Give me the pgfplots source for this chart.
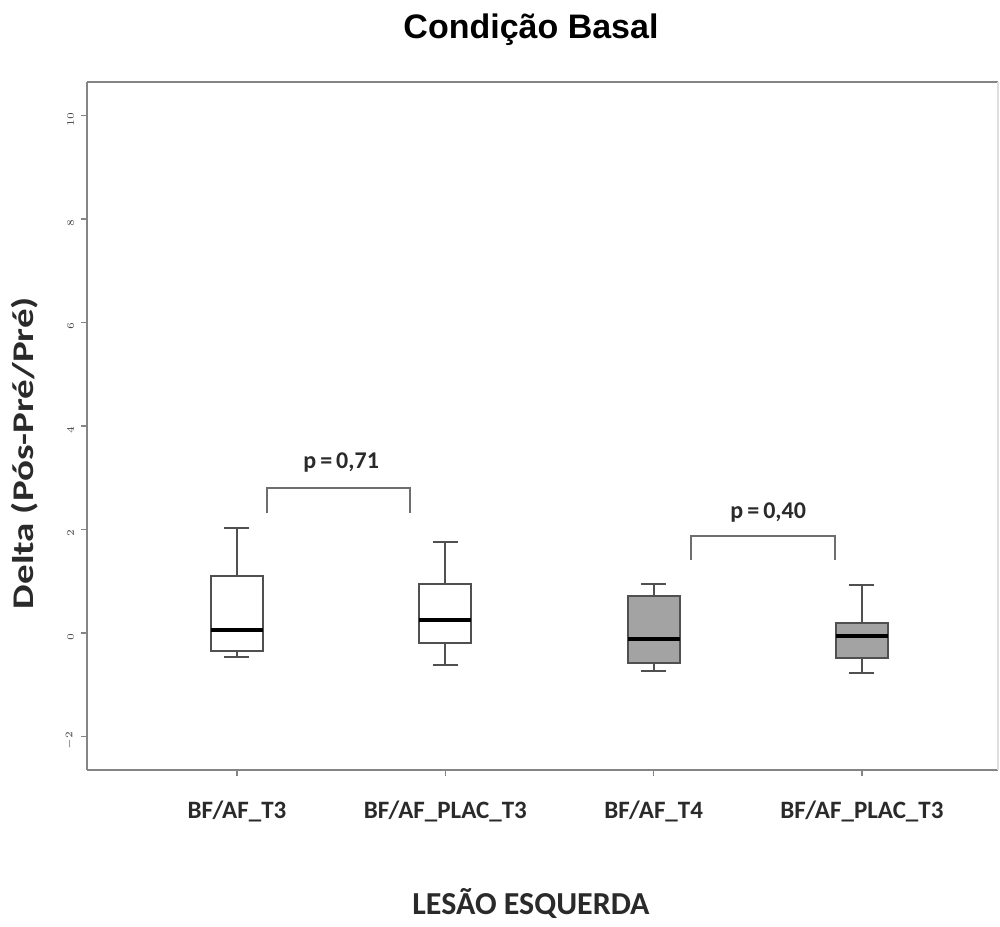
\documentclass[border=0pt]{standalone}
\usepackage{pgfplots}
\pgfplotsset{compat=1.18}
\usepgfplotslibrary{statistics}
\usepackage{fontspec}
\setmainfont{Carlito}
\newfontfamily\arialf{Liberation Sans}
\definecolor{axisgray}{HTML}{858585}
\definecolor{boxline}{HTML}{505050}
\definecolor{boxfill}{HTML}{A3A3A3}
\definecolor{brgray}{HTML}{6E6E6E}
\definecolor{txt}{HTML}{2A2A2A}
\begin{document}
\begin{tikzpicture}
\path[use as bounding box] (0,0) rectangle (500pt,463pt);
\begin{axis}[
  at={(43.5pt,78pt)}, anchor=south west,
  scale only axis, width=455.5pt, height=344pt,
  xmin=-0.72, xmax=3.653, ymin=-2.65, ymax=10.65,
  axis lines*=left,
  axis line style={draw=axisgray, line width=1.3pt, -},
  xtick={0,1,2,3},
  xticklabels={BF/AF\_T3, BF/AF\_PLAC\_T3, BF/AF\_T4, BF/AF\_PLAC\_T3},
  xticklabel style={font=\bfseries\fontsize{12.5}{12.5}\selectfont, text=txt, yshift=-9pt},
  ytick={-2,0,2,4,6,8,10},
  yticklabel style={font=\fontsize{5.5}{5.5}\selectfont, text=darkgray, rotate=90, anchor=south, xshift=-2pt},
  tick align=outside, major tick length=3pt,
  tick style={draw=axisgray, line width=0.8pt},
  boxplot/draw direction=y,
  boxplot/every median/.style={draw=black, line width=2pt},
  clip=false,
]
\draw[draw=axisgray, line width=1.3pt] (rel axis cs:0,1) -- (rel axis cs:1,1);
\draw[draw=gray!25, line width=0.6pt] (rel axis cs:1,0) -- (rel axis cs:1,1);
\addplot[draw=boxline, fill=white, line width=1pt, solid,
  boxplot prepared={draw position=0, lower whisker=-0.46, lower quartile=-0.35,
    median=0.06, upper quartile=1.10, upper whisker=2.03,
    box extend=0.25, whisker extend=0.12}] coordinates {};
\addplot[draw=boxline, fill=white, line width=1pt, solid,
  boxplot prepared={draw position=1, lower whisker=-0.62, lower quartile=-0.19,
    median=0.25, upper quartile=0.95, upper whisker=1.76,
    box extend=0.25, whisker extend=0.12}] coordinates {};
\addplot[draw=boxline, fill=boxfill, line width=1pt, solid,
  boxplot prepared={draw position=2, lower whisker=-0.73, lower quartile=-0.58,
    median=-0.12, upper quartile=0.72, upper whisker=0.95,
    box extend=0.25, whisker extend=0.12}] coordinates {};
\addplot[draw=boxline, fill=boxfill, line width=1pt, solid,
  boxplot prepared={draw position=3, lower whisker=-0.77, lower quartile=-0.48,
    median=-0.06, upper quartile=0.19, upper whisker=0.93,
    box extend=0.25, whisker extend=0.12}] coordinates {};
% brackets
\addplot[draw=brgray, line width=1pt] coordinates {(0.144,2.32) (0.144,2.80) (0.83,2.80) (0.83,2.32)};
\addplot[draw=brgray, line width=1pt] coordinates {(2.18,1.41) (2.18,1.88) (2.87,1.88) (2.87,1.41)};
\node[font=\bfseries\fontsize{12}{12}\selectfont, text=txt] at (axis cs:0.5,3.29) {p\,=\,0,71};
\node[font=\bfseries\fontsize{12}{12}\selectfont, text=txt] at (axis cs:2.55,2.32) {p\,=\,0,40};
\end{axis}
\node[font=\arialf\bfseries\fontsize{17}{17}\selectfont, text=black] at (265.5pt,448pt) {Condição Basal};
\node[font=\bfseries\fontsize{16}{16}\selectfont, text=txt] at (265.5pt,11.5pt) {LESÃO ESQUERDA};
\node[font=\bfseries\fontsize{15}{15}\selectfont, text=txt, rotate=90] at (12.5pt,236.5pt) {\scalebox{1.3}[1]{Delta (Pós-Pré/Pré)}};
\end{tikzpicture}
\end{document}
